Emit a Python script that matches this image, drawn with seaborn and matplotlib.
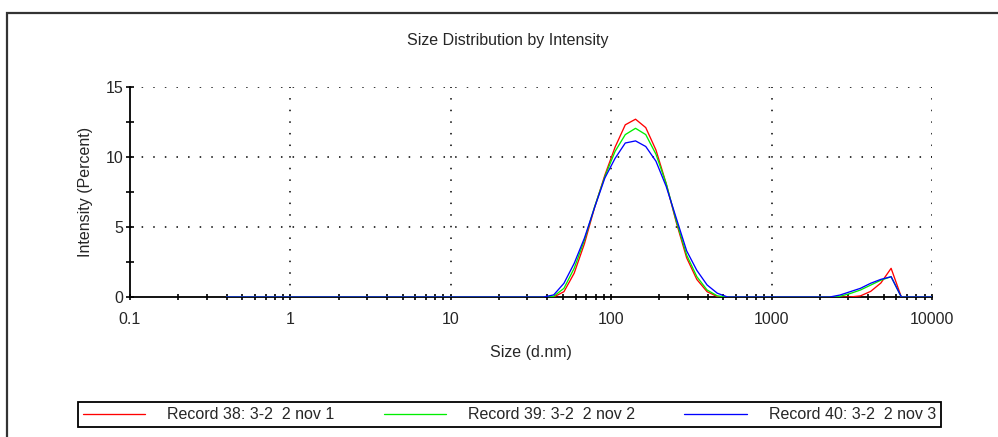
import pandas as pd
import matplotlib.pyplot as plt
import seaborn as sns
from matplotlib.patches import Rectangle
from matplotlib.ticker import LogLocator, FixedLocator, NullFormatter

# size bins (d.nm)
sizes = [0.4, 0.4632, 0.5365, 0.6213, 0.7195, 0.8332, 0.9649, 1.117, 1.294, 1.499,
         1.736, 2.01, 2.328, 2.696, 3.122, 3.615, 4.187, 4.849, 5.615, 6.503,
         7.531, 8.721, 10.1, 11.7, 13.54, 15.69, 18.17, 21.04, 24.36, 28.21,
         32.67, 37.84, 43.82, 50.75, 58.77, 68.06, 78.82, 91.28, 105.7, 122.4,
         141.8, 164.2, 190.1, 220.2, 255.0, 295.3, 342.0, 396.1, 458.7, 531.2,
         615.1, 712.4, 825.0, 955.4, 1106, 1281, 1484, 1718, 1990, 2305,
         2669, 3091, 3580, 4145, 4801, 5560, 6439, 7456, 8635, 10000]

rec38 = [0] * 32 + [0.0, 0.38, 1.7, 3.8, 6.4, 8.7, 10.7, 12.3, 12.7, 12.1,
                    10.5, 8.1, 5.3, 2.8, 1.25, 0.38, 0.03] + [0] * 13 + \
        [0.08, 0.4, 1.0, 2.05, 0, 0, 0, 0]
rec39 = [0] * 32 + [0.05, 0.62, 2.05, 4.05, 6.45, 8.6, 10.4, 11.6, 12.05, 11.6,
                    10.2, 8.1, 5.4, 3.0, 1.45, 0.5, 0.08] + [0] * 11 + \
        [0.05, 0.25, 0.5, 0.85, 1.2, 1.45, 0, 0, 0, 0]
rec40 = [0] * 32 + [0.15, 0.98, 2.4, 4.2, 6.4, 8.5, 9.9, 11.0, 11.15, 10.75,
                    9.7, 7.9, 5.6, 3.3, 1.9, 0.86, 0.27] + [0] * 11 + \
        [0.14, 0.38, 0.62, 0.98, 1.26, 1.45, 0, 0, 0, 0]

labels = ["Record 38: 3-2  2 nov 1", "Record 39: 3-2  2 nov 2", "Record 40: 3-2  2 nov 3"]
colors = ["#ff0000", "#00ee00", "#0000ff"]

df = pd.concat([
    pd.DataFrame({"size": sizes, "intensity": vals, "record": lab})
    for vals, lab in zip([rec38, rec39, rec40], labels)
])

sns.set_style("white")
plt.rcParams["font.family"] = ["Liberation Sans", "DejaVu Sans"]
FS = 11.5
plt.rcParams["font.size"] = FS

fig = plt.figure(figsize=(9.98, 4.37), dpi=100)
ax = fig.add_axes([130 / 998, 140 / 437, 802 / 998, 210 / 437])

sns.lineplot(data=df, x="size", y="intensity", hue="record", palette=colors,
             estimator=None, sort=False, linewidth=0.95, ax=ax, zorder=5)

ax.set_xscale("log")
ax.set_xlim(0.1, 10000)
ax.set_ylim(0, 15)

# dotted grid
dots = (0, (1, 6.6))
for v in [1, 10, 100, 1000, 10000]:
    ax.axvline(v, color="black", lw=1.1, linestyle=dots, zorder=1)
for v in [5, 10, 15]:
    ax.axhline(v, color="black", lw=1.1, linestyle=dots, zorder=1)

ax.xaxis.set_major_locator(FixedLocator([0.1, 1, 10, 100, 1000, 10000]))
ax.set_xticklabels(["0.1", "1", "10", "100", "1000", "10000"])
ax.xaxis.set_minor_locator(LogLocator(base=10, subs=range(2, 10), numticks=20))
ax.xaxis.set_minor_formatter(NullFormatter())
ax.yaxis.set_major_locator(FixedLocator([0, 5, 10, 15]))
ax.yaxis.set_minor_locator(FixedLocator([2.5, 7.5, 12.5]))

ax.tick_params(axis="x", which="both", direction="inout", length=5, width=1.2,
               color="black", pad=8, labelsize=FS)
ax.tick_params(axis="y", which="both", direction="inout", length=6, width=1.2,
               color="black", pad=2, labelsize=FS)
ax.tick_params(bottom=True, left=True)
ax.tick_params(axis="both", which="minor", bottom=True, left=True)

for s in ["top", "right"]:
    ax.spines[s].set_visible(False)
for s in ["left", "bottom"]:
    ax.spines[s].set_color("black")
    ax.spines[s].set_linewidth(1.3)

ax.set_xlabel("Size (d.nm)", fontsize=FS)
ax.set_ylabel("Intensity (Percent)", fontsize=FS)
ax.xaxis.set_label_coords(0.5, -0.229)
ax.yaxis.set_label_coords(-0.046, 0.5)

fig.text(508 / 998, 1 - 40 / 437, "Size Distribution by Intensity",
         ha="center", va="center", fontsize=FS)

handles, labs = ax.get_legend_handles_labels()
ax.get_legend().remove()
leg = fig.legend(handles, labs, ncol=3, mode="expand", loc="lower left",
                 bbox_to_anchor=(78 / 998, 1 - 427 / 437, 863 / 998, 26 / 437),
                 bbox_transform=fig.transFigure, borderaxespad=0,
                 handlelength=3.9, handletextpad=1.4, borderpad=0.3,
                 fancybox=False, framealpha=1, edgecolor="black", fontsize=FS)
leg.get_frame().set_linewidth(1.3)

# outer frame of the report panel
fig.patches.append(Rectangle((7 / 998, -0.05), 1.1, 1 - 12.5 / 437 + 0.05,
                             transform=fig.transFigure, fill=False,
                             edgecolor="#333333", linewidth=1.6))

fig.savefig("out.png", dpi=100)
